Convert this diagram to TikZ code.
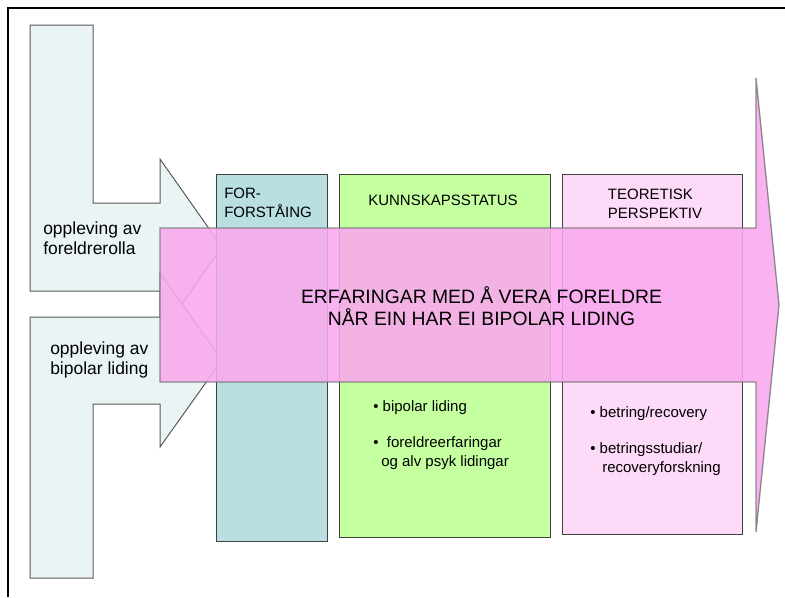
\documentclass[tikz,border=0pt]{standalone}
\usepackage{fontspec}
\setmainfont{Liberation Sans}
\usepackage{xcolor}
\usepackage{tikz}
\usetikzlibrary{positioning,calc}
\definecolor{pilblaa}{HTML}{EAF4F5}
\definecolor{forblaa}{HTML}{B9DFE2}
\definecolor{kunngroen}{HTML}{C4FFA0}
\definecolor{teorosa}{HTML}{FCDAF8}
\definecolor{hovudrosa}{HTML}{F9A9EE}

\begin{document}
\begin{tikzpicture}[x=0.75pt,y=-0.75pt,
		sidepil/.style={fill=pilblaa,draw=gray!70!black,line width=0.75pt},
		kolonne/.style={draw=black!75,line width=0.75pt},
		liten/.style={inner sep=0pt,align=left,font=\fontsize{11.25}{14}\selectfont},
		sidetekst/.style={inner sep=0pt,align=left,anchor=west,font=\fontsize{13.1}{15}\selectfont}]
		\useasboundingbox (0,0) rectangle (785,597);
		% ramme
		\draw[line width=2pt] (8,597) -- (8,8) -- (785,8);
		% pilene til venstre
		\draw[sidepil] (30,25) -- (93,25) -- (93,203) -- (160,203) -- (160,159) -- (222,247) -- (160,335) -- (160,291) -- (30,291) -- cycle;
		\draw[sidepil] (30,317) -- (160,317) -- (160,273) -- (222,360) -- (160,447) -- (160,404) -- (93,404) -- (93,578) -- (30,578) -- cycle;
		% kolonnene
		\draw[kolonne,fill=forblaa] (216,174) rectangle (327,541);
		\draw[kolonne,fill=kunngroen] (339,174) rectangle (550,537);
		\draw[kolonne,fill=teorosa] (562,174) rectangle (742,534);
		% hovudpila
		\draw[fill=hovudrosa,fill opacity=0.88,draw=black!55,draw opacity=0.8,line width=1pt] (160,228) -- (756,228) -- (756,78) -- (779,305) -- (756,532) -- (756,382) -- (160,382) -- cycle;
		\node[align=center,inner sep=0pt,font=\fontsize{14.5}{16.5}\selectfont] (hovud) at (481.5,306) {ERFARINGAR MED Å VERA FORELDRE\\NÅR EIN HAR EI BIPOLAR LIDING};
		% tekst på sidepilene
		\node[sidetekst] (foreldre) at (43,238) {oppleving av\\foreldrerolla};
		\node[sidetekst] (liding) at (50,360) {oppleving av\\bipolar liding};
		% overskrifter
		\node[liten,anchor=west] (forf) at (224,202.5) {FOR-\\FORSTÅING};
		\node[liten] (kunn) at (443,200) {KUNNSKAPSSTATUS};
		\node[liten] (teori) at (655,203.5) {TEORETISK\\PERSPEKTIV};
		% punkt
		\node[liten,anchor=base west] (k1) at (373,411.5) {\textbullet\ bipolar liding};
		\node[liten,anchor=base west] (k2) at ($(k1.base west)+(0,55)$) {\textbullet\ \ foreldreerfaringar\\\hspace*{6pt}og alv psyk lidingar};
		\node[liten,anchor=base west] (t1) at (590,417.5) {\textbullet\ betring/recovery};
		\node[liten,anchor=base west] (t2) at ($(t1.base west)+(0,55)$) {\textbullet\ betringsstudiar/\\\hspace*{9pt}recoveryforskning};
	\end{tikzpicture}
\end{document}
